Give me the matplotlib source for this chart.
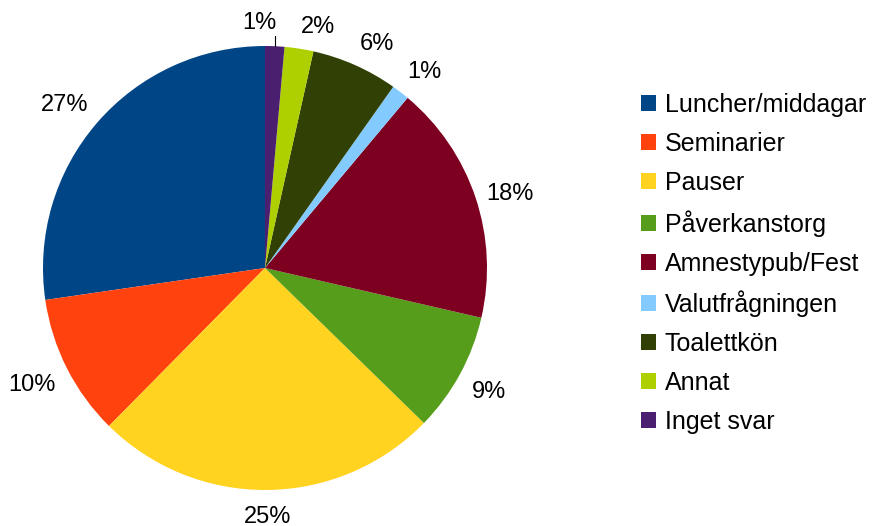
import numpy as np
import matplotlib
matplotlib.use("Agg")
import matplotlib.pyplot as plt
from matplotlib.patches import Patch

plt.rcParams['font.family'] = ['Liberation Sans', 'DejaVu Sans']

categories = ["Luncher/middagar", "Seminarier", "Pauser", "Påverkanstorg",
              "Amnestypub/Fest", "Valutfrågningen", "Toalettkön", "Annat", "Inget svar"]
values = [27.3, 10.3, 25.1, 8.7, 17.5, 1.3, 6.3, 2.1, 1.4]
pct_labels = ["27%", "10%", "25%", "9%", "18%", "1%", "6%", "2%", "1%"]
colors = ["#004586", "#ff420e", "#ffd320", "#579d1c", "#7e0021",
          "#83caff", "#314004", "#aecf00", "#4b1f6f"]

fig = plt.figure(figsize=(8.75, 5.26), dpi=100)
ax = fig.add_axes([43/875, 36/526, 444/875, 444/526])

wedges, _ = ax.pie(values, colors=colors, startangle=90, counterclock=True,
                   wedgeprops=dict(linewidth=0))
ax.set_xlim(-1, 1)
ax.set_ylim(-1, 1)

# percentage labels just outside the pie
for i, w in enumerate(wedges):
    ang = np.deg2rad((w.theta1 + w.theta2) / 2)
    x, y = np.cos(ang), np.sin(ang)
    ha = 'center' if abs(x) < 0.12 else ('left' if x > 0 else 'right')
    va = 'center' if abs(y) < 0.35 else ('bottom' if y > 0 else 'top')
    d = 1.05 + 0.02 * max(0, -y)
    if i == len(wedges) - 1:
        # last small slice: pushed left with a short leader line
        ax.plot([x, x], [y, y + 0.045], color='black', lw=0.8, clip_on=False)
        ax.text(x + 0.01, y + 0.055, pct_labels[i], ha='right', va='bottom', fontsize=17)
        continue
    if i == len(wedges) - 2:
        ha = 'left'
    ax.text(d * x, d * y, pct_labels[i], ha=ha, va=va, fontsize=17)

handles = [Patch(facecolor=c, edgecolor='none') for c in colors]
fig.legend(handles, categories, loc='center left', bbox_to_anchor=(0.721, 0.499),
           frameon=False, fontsize=18, handlelength=0.6, handleheight=0.6,
           handletextpad=0.36, labelspacing=0.6, borderaxespad=0)

fig.savefig("out.png", dpi=100)
